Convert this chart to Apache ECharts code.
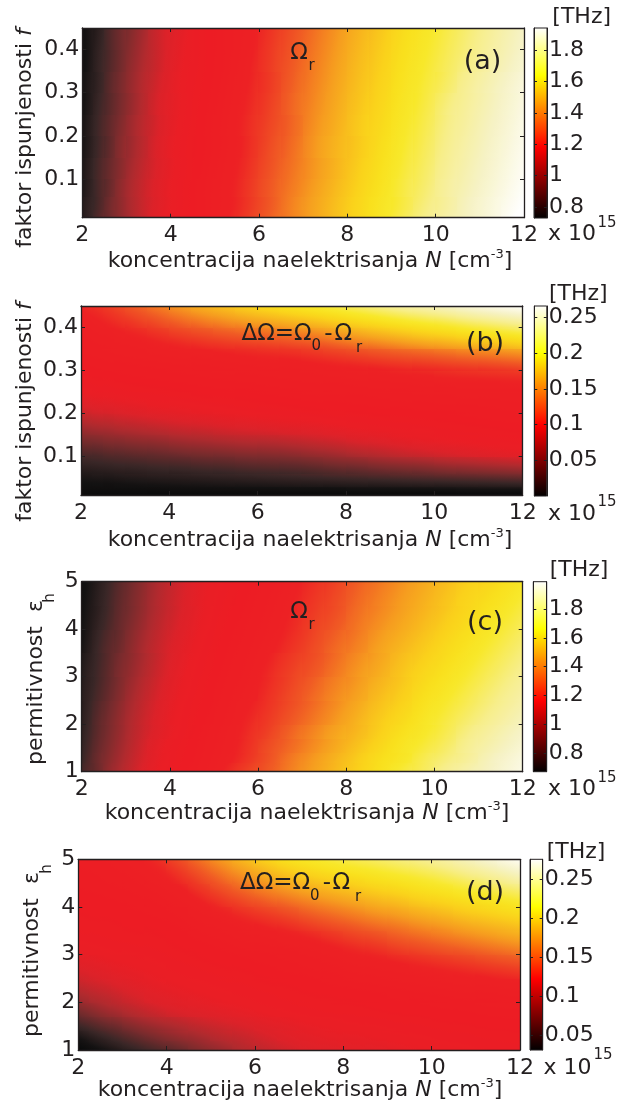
<!DOCTYPE html>
<html>
<head>
<meta charset="utf-8">
<script src="https://cdn.jsdelivr.net/npm/echarts@6/dist/echarts.min.js"></script>
<style>
  html, body { margin: 0; padding: 0; background: #ffffff; }
  #chart { width: 617px; height: 1109px; }
</style>
</head>
<body>
<div id="chart"></div>
<script>
// ---- cell edges of the sampled grids ----
const nEdges = [2, 2.25, 2.5, 2.75, 3, 3.5, 4, 4.5, 5, 5.5, 6, 6.5, 7, 7.5, 8, 8.5, 9, 9.5, 10, 10.5, 11, 11.5, 12];
const fEdges = [0.01, 0.03, 0.06, 0.10, 0.15, 0.20, 0.25, 0.30, 0.35, 0.40, 0.45];
const epsEdges = [1, 1.2, 1.4, 1.7, 2, 2.5, 3, 3.5, 4, 4.5, 5];

// ---- (a) resonance frequency vs N and filling factor f (rows: f from bottom to top) ----
const omegaRvsF = [
  [0.82,0.87,0.91,0.95,1.01,1.09,1.16,1.22,1.29,1.35,1.41,1.46,1.51,1.56,1.61,1.66,1.71,1.76,1.80,1.84,1.88,1.93],
  [0.82,0.86,0.91,0.95,1.01,1.08,1.15,1.22,1.28,1.34,1.40,1.46,1.51,1.56,1.61,1.66,1.70,1.75,1.79,1.84,1.88,1.92],
  [0.81,0.86,0.90,0.95,1.01,1.08,1.15,1.22,1.28,1.34,1.40,1.45,1.50,1.55,1.60,1.65,1.70,1.74,1.79,1.83,1.87,1.91],
  [0.81,0.86,0.90,0.94,1.00,1.07,1.14,1.21,1.27,1.33,1.39,1.44,1.49,1.54,1.59,1.64,1.69,1.73,1.78,1.82,1.86,1.90],
  [0.80,0.85,0.89,0.94,0.99,1.07,1.14,1.20,1.26,1.32,1.38,1.43,1.49,1.54,1.58,1.63,1.68,1.72,1.77,1.81,1.85,1.89],
  [0.80,0.85,0.89,0.93,0.99,1.06,1.13,1.20,1.26,1.32,1.37,1.42,1.48,1.53,1.58,1.62,1.67,1.71,1.76,1.80,1.84,1.88],
  [0.79,0.84,0.88,0.92,0.98,1.06,1.12,1.19,1.25,1.31,1.36,1.42,1.47,1.52,1.57,1.61,1.66,1.70,1.75,1.79,1.83,1.87],
  [0.79,0.83,0.88,0.92,0.98,1.05,1.12,1.18,1.24,1.30,1.35,1.41,1.46,1.51,1.56,1.60,1.65,1.69,1.73,1.78,1.82,1.86],
  [0.78,0.83,0.87,0.91,0.97,1.04,1.11,1.17,1.23,1.29,1.35,1.40,1.45,1.50,1.55,1.59,1.64,1.68,1.72,1.76,1.80,1.84],
  [0.78,0.82,0.87,0.91,0.96,1.04,1.10,1.17,1.23,1.28,1.34,1.39,1.44,1.49,1.54,1.58,1.63,1.67,1.71,1.75,1.79,1.83]
];

// ---- (b) frequency shift vs N and filling factor f ----
const deltaOmegaVsF = [
  [0.003,0.003,0.003,0.003,0.003,0.003,0.004,0.004,0.004,0.004,0.004,0.004,0.004,0.004,0.005,0.005,0.005,0.005,0.005,0.006,0.006,0.006],
  [0.010,0.011,0.011,0.012,0.013,0.014,0.015,0.016,0.017,0.018,0.019,0.020,0.021,0.022,0.023,0.024,0.025,0.026,0.027,0.028,0.029,0.030],
  [0.021,0.022,0.023,0.024,0.025,0.027,0.028,0.030,0.031,0.033,0.034,0.035,0.037,0.040,0.042,0.045,0.047,0.049,0.052,0.054,0.056,0.058],
  [0.037,0.038,0.040,0.041,0.043,0.045,0.048,0.050,0.052,0.054,0.055,0.057,0.060,0.063,0.067,0.070,0.074,0.077,0.080,0.083,0.086,0.089],
  [0.057,0.059,0.060,0.062,0.064,0.067,0.070,0.072,0.075,0.077,0.079,0.081,0.083,0.086,0.088,0.090,0.092,0.094,0.096,0.098,0.100,0.102],
  [0.077,0.079,0.080,0.082,0.084,0.087,0.089,0.092,0.094,0.096,0.098,0.100,0.102,0.103,0.104,0.106,0.107,0.108,0.109,0.110,0.111,0.112],
  [0.095,0.096,0.097,0.098,0.100,0.102,0.104,0.106,0.108,0.109,0.111,0.112,0.114,0.115,0.117,0.118,0.120,0.121,0.123,0.124,0.125,0.126],
  [0.106,0.107,0.109,0.110,0.112,0.114,0.116,0.118,0.120,0.122,0.124,0.125,0.128,0.131,0.134,0.137,0.140,0.142,0.145,0.148,0.150,0.153],
  [0.113,0.116,0.118,0.121,0.124,0.129,0.134,0.138,0.142,0.145,0.148,0.151,0.155,0.160,0.166,0.171,0.176,0.181,0.185,0.190,0.194,0.199],
  [0.124,0.127,0.131,0.135,0.141,0.149,0.157,0.164,0.170,0.176,0.181,0.186,0.191,0.197,0.203,0.209,0.215,0.220,0.225,0.231,0.236,0.241]
];

// ---- (c) resonance frequency vs N and host permittivity (rows: eps from bottom to top) ----
const omegaRvsEps = [
  [0.82,0.86,0.91,0.95,1.01,1.09,1.16,1.22,1.29,1.35,1.40,1.46,1.51,1.56,1.61,1.66,1.71,1.75,1.80,1.84,1.88,1.92],
  [0.81,0.86,0.90,0.94,1.00,1.08,1.15,1.21,1.27,1.33,1.39,1.45,1.50,1.55,1.60,1.65,1.69,1.74,1.78,1.82,1.87,1.91],
  [0.80,0.85,0.89,0.93,0.99,1.07,1.14,1.20,1.26,1.32,1.38,1.43,1.48,1.53,1.58,1.63,1.68,1.72,1.76,1.81,1.85,1.89],
  [0.79,0.84,0.88,0.92,0.98,1.05,1.12,1.19,1.25,1.31,1.36,1.42,1.47,1.52,1.56,1.61,1.66,1.70,1.74,1.79,1.83,1.87],
  [0.78,0.83,0.87,0.91,0.97,1.04,1.11,1.17,1.23,1.29,1.34,1.39,1.44,1.49,1.54,1.59,1.63,1.68,1.72,1.76,1.80,1.84],
  [0.77,0.81,0.85,0.89,0.95,1.02,1.09,1.15,1.21,1.26,1.32,1.37,1.42,1.47,1.51,1.56,1.60,1.65,1.69,1.73,1.77,1.81],
  [0.76,0.80,0.84,0.88,0.93,1.00,1.07,1.13,1.19,1.24,1.30,1.35,1.39,1.44,1.49,1.53,1.58,1.62,1.66,1.70,1.74,1.78],
  [0.74,0.79,0.83,0.86,0.92,0.99,1.05,1.11,1.17,1.22,1.27,1.32,1.37,1.42,1.46,1.51,1.55,1.59,1.63,1.67,1.71,1.75],
  [0.73,0.77,0.81,0.85,0.90,0.97,1.03,1.09,1.15,1.20,1.25,1.30,1.35,1.39,1.44,1.48,1.52,1.56,1.60,1.64,1.68,1.72],
  [0.72,0.76,0.80,0.84,0.89,0.96,1.02,1.08,1.13,1.18,1.23,1.28,1.33,1.37,1.42,1.46,1.50,1.54,1.58,1.62,1.65,1.69]
];

// ---- (d) frequency shift vs N and host permittivity ----
const deltaOmegaVsEps = [
  [0.036,0.041,0.045,0.049,0.055,0.062,0.068,0.075,0.081,0.087,0.092,0.097,0.101,0.103,0.105,0.106,0.108,0.110,0.112,0.113,0.115,0.116],
  [0.045,0.050,0.054,0.058,0.064,0.071,0.077,0.082,0.088,0.092,0.097,0.102,0.105,0.107,0.108,0.110,0.112,0.113,0.115,0.116,0.118,0.119],
  [0.058,0.062,0.066,0.069,0.075,0.081,0.086,0.091,0.095,0.099,0.103,0.106,0.109,0.111,0.113,0.114,0.116,0.118,0.120,0.121,0.123,0.124],
  [0.072,0.076,0.080,0.083,0.088,0.094,0.099,0.102,0.105,0.108,0.111,0.114,0.116,0.118,0.119,0.121,0.123,0.124,0.126,0.127,0.129,0.130],
  [0.087,0.090,0.092,0.095,0.099,0.104,0.107,0.110,0.113,0.115,0.118,0.120,0.122,0.124,0.126,0.128,0.130,0.132,0.134,0.136,0.137,0.139],
  [0.101,0.103,0.105,0.107,0.109,0.112,0.115,0.118,0.121,0.123,0.126,0.128,0.131,0.134,0.138,0.141,0.144,0.147,0.150,0.153,0.156,0.159],
  [0.113,0.114,0.115,0.116,0.117,0.119,0.122,0.126,0.130,0.134,0.137,0.140,0.144,0.149,0.154,0.158,0.163,0.167,0.171,0.175,0.179,0.183],
  [0.120,0.121,0.121,0.122,0.124,0.125,0.129,0.136,0.142,0.148,0.153,0.158,0.164,0.169,0.174,0.179,0.183,0.188,0.192,0.197,0.201,0.205],
  [0.125,0.126,0.127,0.128,0.130,0.134,0.141,0.150,0.159,0.167,0.174,0.180,0.186,0.191,0.196,0.201,0.205,0.210,0.214,0.219,0.223,0.228],
  [0.130,0.131,0.133,0.135,0.138,0.145,0.155,0.166,0.177,0.187,0.196,0.204,0.210,0.215,0.219,0.223,0.227,0.231,0.236,0.242,0.248,0.255]
];

// ---- axis ticks and colour-bar ranges ----
const nTicks = [2, 4, 6, 8, 10, 12];
const fTicks = [0.1, 0.2, 0.3, 0.4];
const epsTicks = [1, 2, 3, 4, 5];
const omegaBarTicks = [0.8, 1, 1.2, 1.4, 1.6, 1.8];
const deltaBarTicks = [0.05, 0.1, 0.15, 0.2, 0.25];
const omegaRangeF = [0.73, 1.94];
const deltaRangeF = [0.0, 0.266];
const omegaRangeEps = [0.67, 1.99];
const deltaRangeEps = [0.031, 0.276];

// ---- styling ----
const FONT = 'DejaVu Sans';
const INK = '#231f20';

// colour ramp of the filled maps (position along the colour range -> colour)
const mapStops = [
  [0.000, '#0b0b0b'], [0.033, '#141212'], [0.091, '#3a2727'], [0.157, '#7a2b2d'], [0.215, '#b02a2e'],
  [0.273, '#dc2229'], [0.322, '#ea1e25'], [0.380, '#ed1c24'], [0.471, '#ed2124'], [0.512, '#ee3a24'],
  [0.558, '#f05a24'], [0.599, '#f47e21'], [0.636, '#f69e1f'], [0.678, '#f8ba1d'], [0.715, '#fad11b'],
  [0.752, '#f9e01d'], [0.785, '#f8e82a'], [0.855, '#f7ee8a'], [0.920, '#f6f2c4'], [1.000, '#ffffff']
];
// colour ramp of the colour bars
const barStops = [
  [0, '#ffffff'], [0.125, '#ffff80'], [0.25, '#ffff00'], [0.375, '#ffaa00'],
  [0.5, '#ff5500'], [0.625, '#ff0000'], [0.75, '#aa0000'], [0.875, '#550000'], [1, '#000000']
];

function hexRgb(h) {
  return [parseInt(h.slice(1, 3), 16), parseInt(h.slice(3, 5), 16), parseInt(h.slice(5, 7), 16)];
}
const mapRgb = mapStops.map(s => [s[0], hexRgb(s[1])]);
function rampColor(t) {
  t = Math.min(1, Math.max(0, t));
  let k = 0;
  while (k < mapRgb.length - 2 && t > mapRgb[k + 1][0]) k++;
  const [t0, a] = mapRgb[k], [t1, b] = mapRgb[k + 1];
  const u = Math.min(1, Math.max(0, (t - t0) / (t1 - t0)));
  return 'rgb(' + a.map((v, j) => Math.round(v + (b[j] - v) * u)).join(',') + ')';
}

function cells(rows, yEdges) {
  const out = [];
  rows.forEach((row, r) => row.forEach((v, c) => {
    out.push([nEdges[c], nEdges[c + 1], yEdges[r], yEdges[r + 1], v]);
  }));
  return out;
}
const mids = e => e.slice(0, -1).map((v, i) => (v + e[i + 1]) / 2);

// Each cell is filled with a shaded ramp that follows the local slope of the
// sampled field, so neighbouring cells blend like a filled contour map.
function shadedRenderer(rows, yEdges, range) {
  const nc = nEdges.length - 1, nr = yEdges.length - 1;
  const xc = mids(nEdges), yc = mids(yEdges);
  const span = range[1] - range[0];
  return function (params, api) {
    const v0 = api.value(4);
    const r = Math.floor(params.dataIndex / nc), c = params.dataIndex % nc;
    const a = api.coord([api.value(0), api.value(3)]);
    const b = api.coord([api.value(1), api.value(2)]);
    const x0 = Math.floor(a[0]), y0 = Math.floor(a[1]);
    const x1 = Math.ceil(b[0]), y1 = Math.ceil(b[1]);
    const cl = Math.max(0, c - 1), cr = Math.min(nc - 1, c + 1);
    const rb = Math.max(0, r - 1), rt = Math.min(nr - 1, r + 1);
    const ctr = api.coord([xc[c], yc[r]]);
    const pL = api.coord([xc[cl], yc[r]]), pR = api.coord([xc[cr], yc[r]]);
    const pB = api.coord([xc[c], yc[rb]]), pT = api.coord([xc[c], yc[rt]]);
    const gx = (rows[r][cr] - rows[r][cl]) / (pR[0] - pL[0]);
    const gy = (rows[rt][c] - rows[rb][c]) / (pT[1] - pB[1]);
    const g = Math.hypot(gx, gy);
    const shape = { x: x0, y: y0, width: x1 - x0, height: y1 - y0 };
    if (g < 1e-9) {
      return { type: 'rect', shape, style: { fill: rampColor((v0 - range[0]) / span) } };
    }
    const ux = gx / g, uy = gy / g;
    let L = 0;
    [[x0, y0], [x1, y0], [x0, y1], [x1, y1]].forEach(p => {
      L = Math.max(L, Math.abs((p[0] - ctr[0]) * ux + (p[1] - ctr[1]) * uy));
    });
    const stops = [];
    const K = 8;
    for (let k = 0; k <= K; k++) {
      const s = -L + 2 * L * k / K;
      stops.push({ offset: k / K, color: rampColor((v0 + g * s - range[0]) / span) });
    }
    const fill = new echarts.graphic.LinearGradient(
      ctr[0] - ux * L, ctr[1] - uy * L, ctr[0] + ux * L, ctr[1] + uy * L, stops, true);
    return { type: 'rect', shape, style: { fill } };
  };
}

function renderBar(params, api) {
  const a = api.coord([0, api.value(1)]);
  const b = api.coord([1, api.value(0)]);
  return { type: 'rect', shape: { x: a[0], y: a[1], width: b[0] - a[0], height: b[1] - a[1] },
           style: { fill: new echarts.graphic.LinearGradient(0, 0, 0, 1,
                     barStops.map(s => ({ offset: s[0], color: s[1] }))),
                    stroke: INK, lineWidth: 1 } };
}

const fmt = v => String(+(+v).toFixed(3));
const labelStyle = { fontFamily: FONT, fontSize: 22, color: INK };

// panel layout: plot box and colour bar box
const panels = [
  { plot: [82.3, 28, 441.7, 189.7], bar: [534, 28, 13, 190], y: [0.01, 0.45], yTicks: fTicks,
    rows: omegaRvsF, yEdges: fEdges, range: omegaRangeF, barTicks: omegaBarTicks },
  { plot: [81, 306, 441.7, 189], bar: [534.3, 306, 12.5, 190], y: [0.01, 0.45], yTicks: fTicks,
    rows: deltaOmegaVsF, yEdges: fEdges, range: deltaRangeF, barTicks: deltaBarTicks },
  { plot: [81.7, 581.7, 441, 190], bar: [533.3, 581.7, 13.4, 190], y: [1, 5], yTicks: epsTicks,
    rows: omegaRvsEps, yEdges: epsEdges, range: omegaRangeEps, barTicks: omegaBarTicks },
  { plot: [78.3, 859.3, 441.7, 190.7], bar: [530, 859.3, 12.7, 190.7], y: [1, 5], yTicks: epsTicks,
    rows: deltaOmegaVsEps, yEdges: epsEdges, range: deltaRangeEps, barTicks: deltaBarTicks }
];

const grid = [], xAxis = [], yAxis = [], series = [];
const lineStyle = { color: INK, width: 1.3 };
const tickIn = { show: true, inside: true, length: 4, lineStyle: { color: INK, width: 1 } };

panels.forEach(p => {
  const gPlot = grid.length;
  grid.push({ left: p.plot[0], top: p.plot[1], width: p.plot[2], height: p.plot[3], outerBoundsMode: 'none', containLabel: false });
  const gBar = grid.length;
  grid.push({ left: p.bar[0], top: p.bar[1], width: p.bar[2], height: p.bar[3], outerBoundsMode: 'none', containLabel: false });

  // plot axes: bottom / top / left / right, drawn above the filled map
  const xb = xAxis.length;
  xAxis.push({ type: 'value', gridIndex: gPlot, min: nTicks[0], max: nTicks[nTicks.length - 1], interval: 2, position: 'bottom', z: 5,
    axisLine: { show: true, onZero: false, lineStyle }, axisTick: tickIn, splitLine: { show: false },
    axisLabel: { ...labelStyle, margin: 7, formatter: fmt } });
  xAxis.push({ type: 'value', gridIndex: gPlot, min: nTicks[0], max: nTicks[nTicks.length - 1], interval: 2, position: 'top', z: 5,
    axisLine: { show: true, onZero: false, lineStyle }, axisTick: tickIn, splitLine: { show: false },
    axisLabel: { show: false } });
  const yl = yAxis.length;
  yAxis.push({ type: 'value', gridIndex: gPlot, min: p.y[0], max: p.y[1], position: 'left', z: 5,
    axisLine: { show: true, onZero: false, lineStyle },
    axisTick: { ...tickIn, customValues: p.yTicks }, splitLine: { show: false },
    axisLabel: { ...labelStyle, margin: 3, customValues: p.yTicks, formatter: fmt } });
  yAxis.push({ type: 'value', gridIndex: gPlot, min: p.y[0], max: p.y[1], position: 'right', z: 5,
    axisLine: { show: true, onZero: false, lineStyle },
    axisTick: { ...tickIn, customValues: p.yTicks }, splitLine: { show: false },
    axisLabel: { show: false } });

  // colour bar axes
  const xbBar = xAxis.length;
  xAxis.push({ type: 'value', gridIndex: gBar, min: 0, max: 1, show: false });
  const ybBar = yAxis.length;
  yAxis.push({ type: 'value', gridIndex: gBar, min: p.range[0], max: p.range[1], position: 'right', z: 5,
    axisLine: { show: true, onZero: false, lineStyle: { color: INK, width: 1 } },
    axisTick: { show: true, inside: true, length: 3, customValues: p.barTicks, lineStyle: { color: INK, width: 1 } },
    splitLine: { show: false },
    axisLabel: { ...labelStyle, margin: 2, customValues: p.barTicks, formatter: fmt } });
  yAxis.push({ type: 'value', gridIndex: gBar, min: p.range[0], max: p.range[1], position: 'left', z: 5,
    axisLine: { show: true, onZero: false, lineStyle: { color: INK, width: 1 } },
    axisTick: { show: true, inside: true, length: 3, customValues: p.barTicks, lineStyle: { color: INK, width: 1 } },
    splitLine: { show: false }, axisLabel: { show: false } });

  series.push({ type: 'custom', xAxisIndex: xb, yAxisIndex: yl, clip: true, silent: true,
    renderItem: shadedRenderer(p.rows, p.yEdges, p.range), encode: { x: [0, 1], y: [2, 3] },
    data: cells(p.rows, p.yEdges) });
  series.push({ type: 'custom', xAxisIndex: xbBar, yAxisIndex: ybBar, silent: true,
    renderItem: renderBar, encode: { y: [0, 1] }, data: [[p.range[0], p.range[1]]] });
});

// ---- text: axis titles, panel names, units ----
function text(x, y, str, size, extra) {
  const st = Object.assign({ text: str, fontFamily: FONT, fontSize: size, fill: INK,
    align: 'center', verticalAlign: 'middle' }, extra && extra.style);
  return Object.assign({ type: 'text', x, y, z: 20, style: st }, extra && extra.el);
}
const R90 = { rotation: Math.PI / 2 };
const richX = {
  i: { fontFamily: FONT, fontSize: 22, fontStyle: 'italic', fill: INK, lineHeight: 26 },
  s: { fontFamily: FONT, fontSize: 13, fill: INK, lineHeight: 13, verticalAlign: 'top' }
};
const xTitle = 'koncentracija naelektrisanja {i|N} [cm{s|-3}]';
const fTitle = 'faktor ispunjenosti {i|f}';
const richF = { i: { fontFamily: FONT, fontSize: 22, fontStyle: 'italic', fill: INK } };

const graphic = [
  // (a)
  text(25.5, 138, fTitle, 22, { el: R90, style: { rich: richF } }),
  text(310, 261, xTitle, 22, { style: { rich: richX, lineHeight: 26 } }),
  text(299, 53.5, 'Ω', 23),
  text(311.5, 66.5, 'r', 15),
  text(482.5, 62, '(a)', 27),
  text(581.7, 17.5, '[THz]', 22),
  text(548, 234, 'x 10', 22, { style: { align: 'left' } }),
  text(597.5, 223, '15', 15, { style: { align: 'left' } }),
  // (b)
  text(25.5, 412, fTitle, 22, { el: R90, style: { rich: richF } }),
  text(310, 540, xTitle, 22, { style: { rich: richX, lineHeight: 26 } }),
  text(241.5, 334, 'ΔΩ=Ω', 23, { style: { align: 'left' } }),
  text(311.5, 346, '0', 15, { style: { align: 'left' } }),
  text(328.5, 334, '-', 23),
  text(334.5, 334, 'Ω', 23, { style: { align: 'left' } }),
  text(356, 348, 'r', 15, { style: { align: 'left' } }),
  text(485, 344, '(b)', 27),
  text(578.3, 294, '[THz]', 22),
  text(548, 514, 'x 10', 22, { style: { align: 'left' } }),
  text(597.5, 502, '15', 15, { style: { align: 'left' } }),
  // (c)
  text(36, 765, 'permitivnost  ε', 22, { el: R90, style: { align: 'left' } }),
  text(50, 598, 'h', 15, { el: R90 }),
  text(307, 813, xTitle, 22, { style: { rich: richX, lineHeight: 26 } }),
  text(299, 612.5, 'Ω', 23),
  text(311.5, 625, 'r', 15),
  text(485, 623, '(c)', 27),
  text(579, 570, '[THz]', 22),
  text(548, 789, 'x 10', 22, { style: { align: 'left' } }),
  text(597.5, 778, '15', 15, { style: { align: 'left' } }),
  // (d)
  text(32.5, 1037, 'permitivnost  ε', 22, { el: R90, style: { align: 'left' } }),
  text(47, 869, 'h', 15, { el: R90 }),
  text(300, 1090, xTitle, 22, { style: { rich: richX, lineHeight: 26 } }),
  text(240, 883.5, 'ΔΩ=Ω', 23, { style: { align: 'left' } }),
  text(310, 896, '0', 15, { style: { align: 'left' } }),
  text(327, 883.5, '-', 23),
  text(332.5, 883.5, 'Ω', 23, { style: { align: 'left' } }),
  text(355, 897, 'r', 15, { style: { align: 'left' } }),
  text(485, 893, '(d)', 27),
  text(576, 852, '[THz]', 22),
  text(543.5, 1068, 'x 10', 22, { style: { align: 'left' } }),
  text(593.5, 1055, '15', 15, { style: { align: 'left' } })
];

const chart = echarts.init(document.getElementById('chart'), null, { renderer: 'canvas' });
chart.setOption({
  animation: false,
  backgroundColor: '#ffffff',
  grid, xAxis, yAxis, series, graphic
});
</script>
</body>
</html>
